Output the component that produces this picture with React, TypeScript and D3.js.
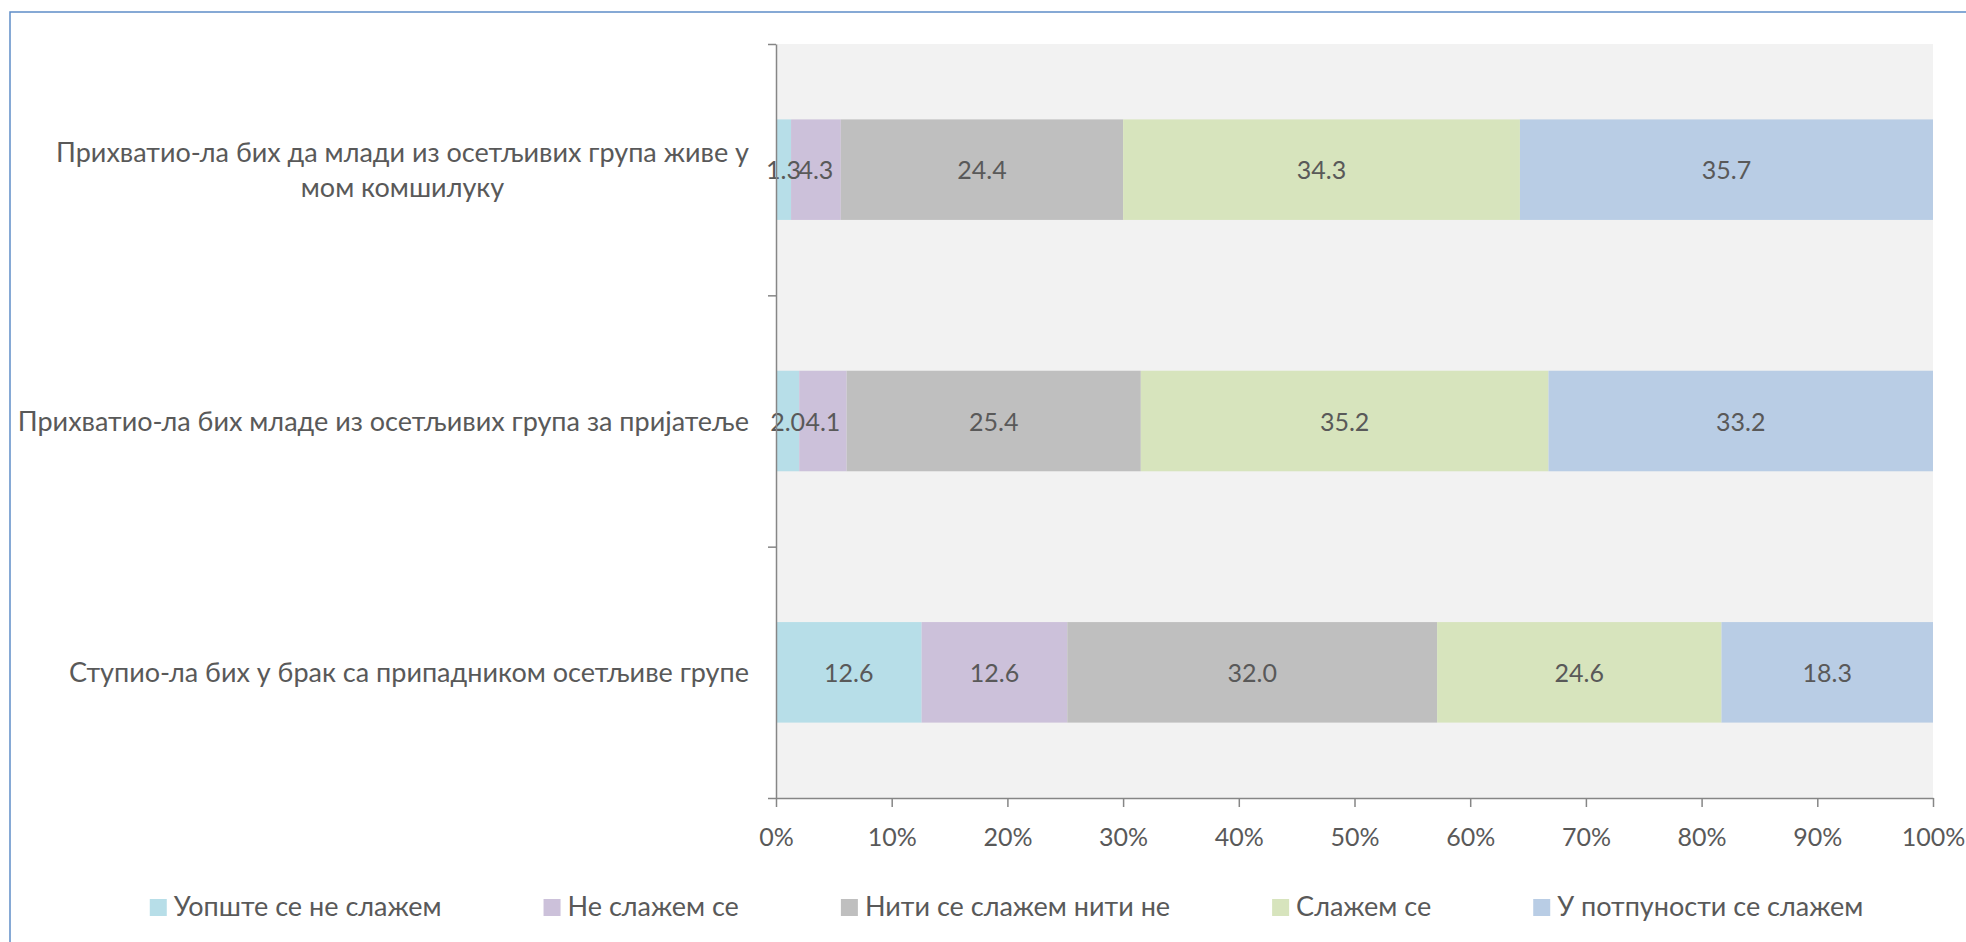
import React, { useEffect, useRef } from 'react';
import * as d3 from 'd3';

// категорије (одозго надоле)
const categories = [
    'Прихватио-ла бих да млади из осетљивих група живе у мом комшилуку',
    'Прихватио-ла бих младе из осетљивих група за пријатеље',
    'Ступио-ла бих у брак са припадником осетљиве групе',
];

const seriesNames = [
    'Уопште се не слажем',
    'Не слажем се',
    'Нити се слажем нити не',
    'Слажем се',
    'У потпуности се слажем',
];

// проценти по категорији
const stronglyDisagree = [1.3, 2.0, 12.6];
const disagree = [4.3, 4.1, 12.6];
const neutral = [24.4, 25.4, 32.0];
const agree = [34.3, 35.2, 24.6];
const stronglyAgree = [35.7, 33.2, 18.3];

const xTicks = [0, 10, 20, 30, 40, 50, 60, 70, 80, 90, 100];

const colors = ['#B7DEE8', '#CCC1DA', '#BFBFBF', '#D7E4BD', '#B9CDE5'];

const W = 1966;
const H = 942;
const FONT = 'Lato, "Open Sans", sans-serif';
const TEXT = '#595959';
const AXIS = '#868686';
const LABEL_SIZE = 27;
const NUM_SIZE = 25;

type Row = { [key: string]: number | string };

const App: React.FC = () => {
    const ref = useRef<SVGSVGElement>(null);

    useEffect(() => {
        if (!ref.current) return;
        const svg = d3.select(ref.current);
        svg.selectAll('*').remove();

        const plot = { left: 776, right: 1933, top: 44, bottom: 798 };

        // рамка графикона
        svg.append('rect')
            .attr('x', 10).attr('y', 12)
            .attr('width', W).attr('height', H)
            .attr('fill', '#fff')
            .attr('stroke', '#5F8DC8')
            .attr('stroke-width', 1.5);

        const seriesValues = [stronglyDisagree, disagree, neutral, agree, stronglyAgree];
        const rows: Row[] = categories.map((c, i) => {
            const r: Row = { category: c };
            seriesNames.forEach((s, j) => (r[s] = seriesValues[j][i]));
            return r;
        });

        const x = d3.scaleLinear().domain([0, 1]).range([plot.left, plot.right]);
        const y = d3.scaleBand<string>()
            .domain(categories)
            .range([plot.top, plot.bottom])
            .paddingInner(0.6)
            .paddingOuter(0.3);

        svg.append('rect')
            .attr('x', plot.left).attr('y', plot.top)
            .attr('width', plot.right - plot.left)
            .attr('height', plot.bottom - plot.top)
            .attr('fill', '#F2F2F2');

        const stack = d3.stack<Row>()
            .keys(seriesNames)
            .value((d, k) => d[k] as number)
            .offset(d3.stackOffsetExpand);
        const stacked = stack(rows);

        const layers = svg.append('g')
            .selectAll('g')
            .data(stacked)
            .enter()
            .append('g')
            .attr('fill', (d, i) => colors[i]);

        layers.selectAll('rect')
            .data((d) => d)
            .enter()
            .append('rect')
            .attr('x', (d) => x(d[0]))
            .attr('y', (d) => y(d.data.category as string)!)
            .attr('width', (d) => x(d[1]) - x(d[0]))
            .attr('height', y.bandwidth());

        // ознаке вредности
        stacked.forEach((layer) => {
            svg.append('g')
                .selectAll('text')
                .data(layer)
                .enter()
                .append('text')
                .attr('x', (d) => (x(d[0]) + x(d[1])) / 2)
                .attr('y', (d) => y(d.data.category as string)! + y.bandwidth() / 2 + 9.5)
                .attr('text-anchor', 'middle')
                .attr('font-family', FONT)
                .attr('font-size', NUM_SIZE)
                .attr('fill', TEXT)
                .text((d) => d3.format('.1f')(d.data[layer.key] as number));
        });

        // ос X
        const xAxis = svg.append('g')
            .attr('transform', `translate(0,${plot.bottom})`)
            .call(
                d3.axisBottom(x)
                    .tickValues(xTicks.map((t) => t / 100))
                    .tickFormat((d) => d3.format('.0%')(d as number))
                    .tickSize(9)
                    .tickSizeOuter(0)
            );
        xAxis.select('.domain').attr('stroke', AXIS).attr('stroke-width', 1.5);
        xAxis.selectAll('.tick line').attr('stroke', AXIS).attr('stroke-width', 1.5);
        xAxis.selectAll('.tick text')
            .attr('dy', null)
            .attr('y', 47.5)
            .attr('font-family', FONT)
            .attr('font-size', NUM_SIZE)
            .attr('fill', TEXT);

        // ос Y (подеоци на границама категорија)
        const yEdges = d3.scaleLinear().domain([0, categories.length]).range([plot.top, plot.bottom]);
        const yAxis = svg.append('g')
            .attr('transform', `translate(${plot.left},0)`)
            .call(
                d3.axisLeft(yEdges)
                    .tickValues(d3.range(categories.length + 1))
                    .tickFormat(() => '')
                    .tickSize(8)
                    .tickSizeOuter(0)
            );
        yAxis.select('.domain').attr('stroke', AXIS).attr('stroke-width', 1.5);
        yAxis.selectAll('.tick line').attr('stroke', AXIS).attr('stroke-width', 1.5);

        // називи категорија, прелом у више редова
        const labelRight = 749;
        const maxWidth = 737;
        const lineH = 35;
        categories.forEach((c) => {
            const g = svg.append('g');
            const probe = g.append('text')
                .attr('font-family', FONT)
                .attr('font-size', LABEL_SIZE);
            const words = c.split(' ');
            const lines: string[] = [];
            let cur = '';
            words.forEach((w) => {
                const test = cur ? cur + ' ' + w : w;
                probe.text(test);
                if ((probe.node() as SVGTextElement).getComputedTextLength() > maxWidth && cur) {
                    lines.push(cur);
                    cur = w;
                } else {
                    cur = test;
                }
            });
            lines.push(cur);
            const widths = lines.map((l) => {
                probe.text(l);
                return (probe.node() as SVGTextElement).getComputedTextLength();
            });
            probe.remove();
            const cy = y(c)! + y.bandwidth() / 2;
            const maxW = d3.max(widths) ?? 0;
            lines.forEach((l, i) => {
                g.append('text')
                    .attr('x', lines.length > 1 ? labelRight - maxW / 2 : labelRight)
                    .attr('y', cy + 9.7 + (i - (lines.length - 1) / 2) * lineH)
                    .attr('text-anchor', lines.length > 1 ? 'middle' : 'end')
                    .attr('font-family', FONT)
                    .attr('font-size', LABEL_SIZE)
                    .attr('fill', TEXT)
                    .text(l);
            });
        });

        // легенда
        const legend = svg.append('g');
        const items = legend.selectAll('g')
            .data(seriesNames)
            .enter()
            .append('g');
        items.append('rect')
            .attr('width', 17)
            .attr('height', 17)
            .attr('y', 899)
            .attr('fill', (d, i) => colors[i]);
        items.append('text')
            .attr('x', 24)
            .attr('y', 916)
            .attr('font-family', FONT)
            .attr('font-size', LABEL_SIZE)
            .attr('fill', TEXT)
            .text((d) => d);
        const itemWidths: number[] = [];
        items.each(function () {
            const t = d3.select(this).select('text').node() as SVGTextElement;
            itemWidths.push(24 + t.getComputedTextLength());
        });
        const gap = 102;
        const total = d3.sum(itemWidths) + gap * (itemWidths.length - 1);
        let pos = 1006.5 - total / 2;
        items.attr('transform', (d, i) => {
            const tx = pos;
            pos += itemWidths[i] + gap;
            return `translate(${tx},0)`;
        });
    }, []);

    return (
        <svg
            ref={ref}
            width={W}
            height={H}
            style={{ position: 'absolute', left: 0, top: 0, background: '#fff' }}
        />
    );
};

export default App;
